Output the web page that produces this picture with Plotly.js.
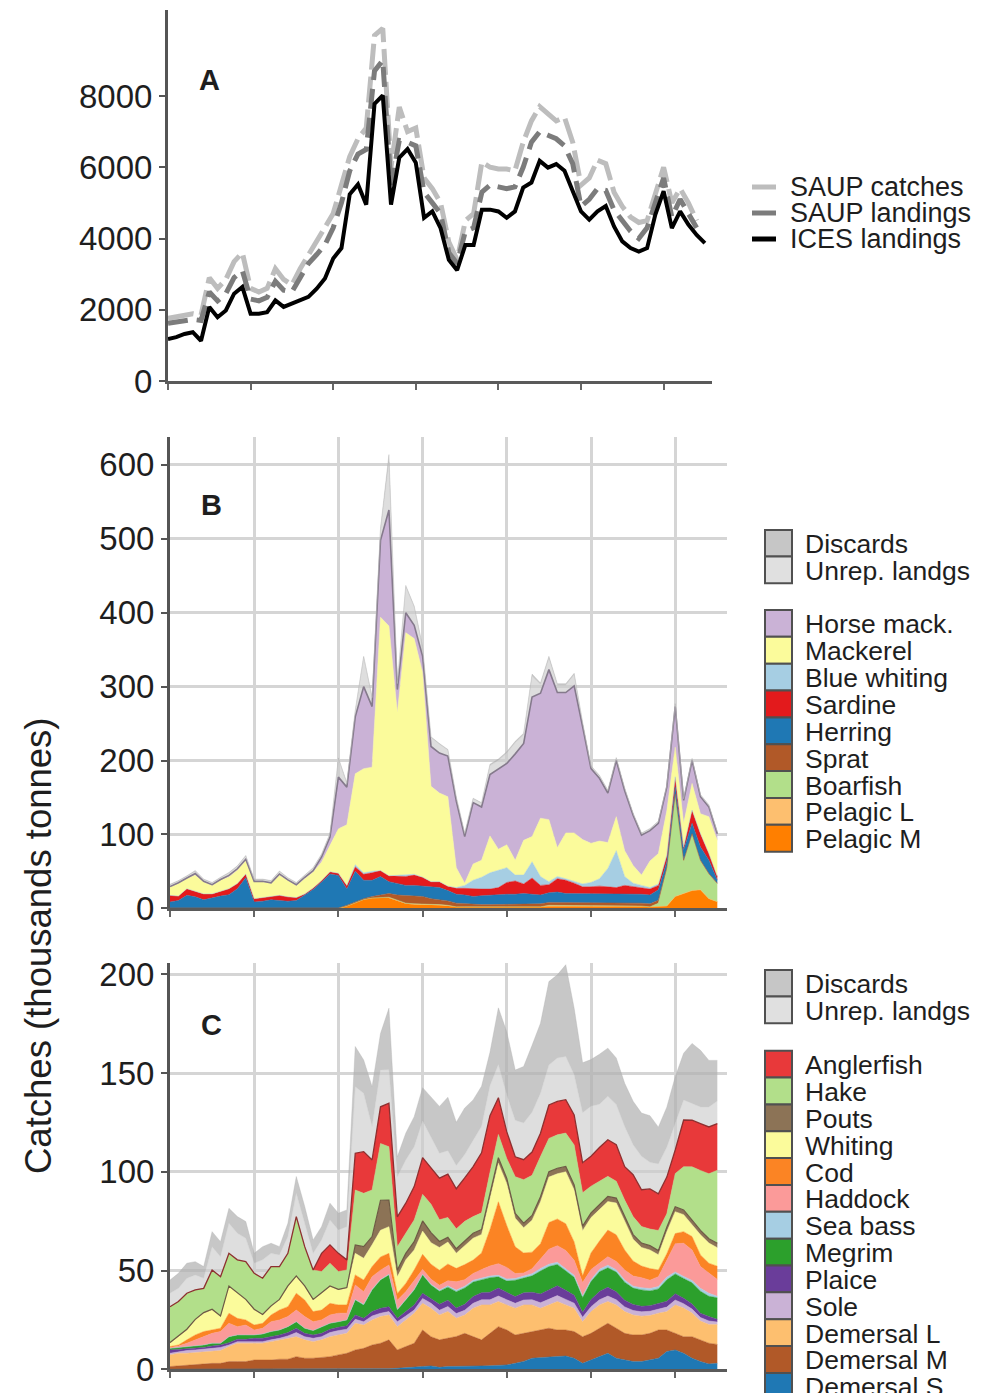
<!DOCTYPE html>
<html><head><meta charset="utf-8">
<script src="https://cdn.plot.ly/plotly-3.0.1.min.js"></script>
<style>html,body{margin:0;padding:0;background:#fff;}#chart{width:1005px;height:1393px;}</style>
</head><body><div id="chart"></div>
<script>
const years=[1950,1951,1952,1953,1954,1955,1956,1957,1958,1959,1960,1961,1962,1963,1964,1965,1966,1967,1968,1969,1970,1971,1972,1973,1974,1975,1976,1977,1978,1979,1980,1981,1982,1983,1984,1985,1986,1987,1988,1989,1990,1991,1992,1993,1994,1995,1996,1997,1998,1999,2000,2001,2002,2003,2004,2005,2006,2007,2008,2009,2010,2011,2012,2013,2014,2015];

// Panel A
const saupCatches=[1760,1800,1850,1890,1850,2900,2600,2850,3350,3600,2600,2500,2600,3150,2850,2700,3150,3540,3900,4290,4700,5500,6300,6800,7100,9700,9900,6000,7690,7000,7100,5700,5400,5000,3900,3400,4500,4700,6150,6000,5950,5950,5900,6700,7300,7700,7500,7300,7400,6700,5500,5700,6200,6100,5300,4900,4600,4450,4500,5300,6000,5000,5400,5000,4500,null];
const saupLandings=[1620,1650,1700,1730,1700,2500,2250,2450,2900,3100,2300,2250,2350,2800,2550,2500,2900,3300,3550,3820,4300,5000,5900,6370,6500,8700,9000,5500,6750,6700,6600,5300,5000,4700,3600,3300,4200,4300,5300,5500,5450,5400,5450,6000,6700,7000,6900,6800,6600,6100,4900,5100,5400,5350,4800,4500,4200,4000,4300,5000,5700,4600,5100,4700,4300,null];
const icesLandings=[1180,1230,1320,1370,1130,2080,1790,1980,2450,2640,1890,1890,1930,2260,2080,2170,2260,2360,2590,2880,3440,3730,5240,5520,4950,7780,8020,4950,6270,6510,6130,4580,4760,4290,3400,3110,3820,3820,4810,4810,4760,4580,4760,5430,5570,6180,5990,6090,5900,5330,4760,4530,4760,4910,4340,3920,3730,3630,3730,4670,5330,4290,4760,4390,4100,3870];

// Panel B (pelagic)
const bHorseMack=[1,1,1,2,1,1,1,2,2,2,1,1,1,2,1,1,2,2,7,11,70,51,77,111,82,104,157,31,27,18,22,54,54,55,90,63,83,72,83,108,110,144,131,189,169,203,210,190,199,153,101,85,67,76,81,68,54,41,41,32,55,31,31,23,13,9];
const bMackerel=[11,17,13.5,22.5,16,11.5,15.5,16,18,18,22.5,21,18,27,22,16.5,20.5,21.5,25,36,60,82,123,141,141,343,338,220,328,319,277,129,120,121,27,3,22,23,50,28,31,20,47,34,79,84,39,62,65,60,53,51,35,46,35,24,14,36,41,60,40,32,36,27,50,49];
const bBlueWhiting=[0,0,0,0,0,0,0,0,0,0,0,0,0,0,0,0,0,0,0,0,0,0,3,2,2,0,0,1,2,1,0,0,0,0,1,4,12,16,22,24,20,8,12,22,12,4,3,2,3,4,6,10,25,50,12,5,3,2,2,1,0,0,0,0,0,0];
const bSardine=[9,6,9,7,8,5,6,8,7,5,4.5,5,4,7,6,4,2,2,2,3,3,5,6,8,10,8,8,10,12,14,12,8,8,6,8,9,10,9,8,10,16,18,13,22,13,11,18,18,14,9,10,11,9,8,12,10,9,8,6,8,14,4,18,18,9,5];
const bHerring=[8,10,17,15,11,14,16,18,26,41,8,9,11,10,9,10,17,25,35,46,44,22,41,25,22,25,16,16,14,14,14,15,16,14,12,12,11,12,13,13,14,13,14,13,12,13,14,12,12,12,11,11,12,12,11,11,12,12,14,8,9,14,14,18,18,4];
const bSprat=[0.5,0.5,0.5,0.5,0.5,0.5,0.5,0.5,0.5,0.5,0.5,0.5,0.5,0.5,0.5,0.5,0.5,0.5,0.5,0.5,0.5,1,1,1,2,3,5,7,10,11,10,8,7,6,5,4,3,3,3,3,3,4,4,4,4,4,4,4,4,4,4,4,4,4,4,4,4,4,4,2,1,1,1,1,1,1];
const bBoarfish=[0,0,0,0,0,0,0,0,0,0,0,0,0,0,0,0,0,0,0,0,0,0,0,0,0,0,0,0,0,0,0,0,0,0,0,0,0,0,0,0,0,0,0,0,0,0,0,0,0,0,0,0,0,0,0,0,0,0,5,50,138,44,76,39,33,24];
const bPelagicL=[0,0,0,0,0,0,0,0,0,0,0,0,0,0,0,0,0,0,0,0,0,0,0,0,0,0,1,1,1,1,1,1,1,1,0,0,0,0,0,0,0,0,0,0,0,1,1,1,1,1,1,1,1,1,1,1,0,0,0,0,0,0,0,0,0,0];
const bPelagicM=[0,0,0,0,0,0,0,0,0,0,0,0,0,0,0,0,0,0,0,0,0,3,8,12,14,15,14,10,6,5,5,4,4,3,2,2,2,2,2,2,2,2,2,2,2,3,3,3,3,3,3,3,3,3,3,3,3,2,2,3,16,20,24,25,13,9];
const bUnrep=[2,2,2,3,2,2,2,3,3,4,2,2,2,3,2,2,2,3,3,4,25,5,8,40,12,15,65,8,35,25,12,12,12,8,5,4,5,5,12,12,14,15,12,28,12,15,10,10,15,5,3,3,3,3,3,2,2,2,2,2,3,2,2,2,2,2];
const bDiscards=[1,1,1,1,1,1,1,1,1,1,1,1,1,1,1,1,1,1,1,1,1,1,1,1,1,1,10,1,2,1,1,1,1,1,1,1,1,1,2,2,2,2,2,3,2,3,2,2,2,1,1,1,1,1,1,1,1,1,1,1,1,1,1,1,1,1];

// Panel C (demersal)
const cAnglerfish=[0,0,0,0,0,0,0,0,0,0,0,0,0,0,0,0,0,0,9.2,9.3,9.2,5.1,18.6,21.1,15.2,18.6,22.0,15.2,15.2,16.9,18.6,18.5,21.1,21.9,20.3,22.0,25.3,30.4,28.7,18.6,13.5,10.1,10.1,11.8,11.8,16.9,16.9,16.9,15.2,15.2,15.2,16.9,18.5,18.5,16.9,21.2,18.6,20.3,18.5,18.6,11.9,23.6,23.6,23.7,23.7,23.6];
const cHake=[18.2,17.4,18.2,14.9,12.3,19.9,19.9,16.5,16.6,19.1,18.2,18.3,19.9,16.6,16.5,30.0,19.9,14.9,10.7,11.5,9.0,8.9,27.8,27.0,23.6,28.7,27.0,11.8,10.2,11.0,13.5,14.4,11.0,10.1,10.1,10.1,8.4,8.5,11.2,11.8,10.1,18.6,22.0,20.3,20.3,16.8,16.9,16.9,20.2,16.9,13.5,11.8,10.2,8.5,8.4,9.1,8.4,8.4,10.2,6.8,16.8,21.9,27.0,30.4,32.9,37.0];
const cPouts=[0.3,0.4,0.4,0.3,0.3,0.4,0.3,0.3,0.3,0.3,0.4,0.3,0.4,0.3,0.3,0.4,0.3,0.3,0.3,0.3,0.3,0.4,4.3,5.9,4.2,15.2,13.5,3.4,3.3,4.2,5.1,5.1,3.0,2.4,2.2,2.4,2.5,2.4,2.6,2.8,2.6,2.4,2.3,2.4,2.6,2.8,2.8,2.7,2.6,2.3,2.4,2.5,2.6,2.5,2.4,2.3,2.2,2.2,2.1,2.3,2.5,2.4,2.3,2.2,2.2,2.2];
const cWhiting=[1.7,4.2,5.0,7.6,9.3,10.1,5.9,13.5,12.7,10.1,7.6,4.2,4.2,5.1,10.2,8.4,6.8,5.9,8.5,8.5,7.6,8.4,10.9,11.0,11.0,13.5,13.5,8.4,11.9,10.1,11.8,10.9,11.5,11.1,7.7,9.4,11.1,9.4,15.1,19.5,21.3,14.5,12.8,16.2,21.2,23.0,22.9,26.3,26.3,22.9,17.9,16.2,14.4,16.1,14.5,11.1,9.4,9.4,7.7,11.1,11.1,8.6,6.0,10.2,10.2,9.4];
const cCod=[0.4,0.5,1.7,2.5,2.6,1.7,1.7,5.1,4.2,2.6,2.5,2.5,3.4,5.0,5.0,8.5,8.4,5.1,5.0,5.9,4.2,4.2,5.1,5.9,5.1,6.7,5.9,3.4,4.2,5.1,7.6,7.6,7.6,8.5,6.8,7.6,6.8,8.4,18.5,31.3,21.1,13.5,10.1,8.4,7.6,13.5,13.5,13.5,9.3,3.4,8.4,11.0,13.5,13.5,10.1,7.6,5.9,5.9,3.4,3.3,5.1,5.9,6.8,5.9,5.1,6.7];
const cHaddock=[0.5,0.7,1.7,3.1,4.2,5.0,5.9,6.8,4.2,5.0,2.5,2.9,5.0,5.1,5.1,5.9,5.9,4.5,3.7,4.2,4.3,3.4,7.3,6.4,6.4,4.7,4.7,4.7,3.9,4.7,2.5,2.6,2.5,2.5,4.2,3.4,3.4,4.2,5.1,5.9,5.9,2.5,1.7,2.5,5.0,7.6,8.4,9.2,7.6,6.7,5.1,3.3,4.3,4.2,5.1,5.1,5.1,4.2,5.0,8.5,14.3,16.8,15.4,11.0,10.1,8.5];
const cSeaBass=[0,0,0,0,0,0,0,0,0,0,0,0,0,0,0,0,0,0,0,0,0,0,0.3,0.3,0.3,0.3,0.3,0.3,0.3,0.3,0.3,0.3,0.6,0.7,0.8,0.8,0.9,0.9,0.8,0.8,1.0,0.9,1.0,1.1,1.2,1.2,1.1,1.0,1.0,0.8,1.0,1.2,1.3,1.2,1.1,1.0,1.1,1.2,1.2,1.4,1.0,1.0,1.2,1.5,1.5,0.8];
const cMegrim=[0.8,1.0,0.9,0.8,1.2,1.4,0.9,3.0,2.2,2.2,1.7,2.2,2.6,2.5,3.0,3.3,2.6,2.2,3.1,3.0,2.8,3.0,7.6,6.8,11.0,14.3,16.1,4.2,5.9,7.6,9.3,6.8,6.6,6.6,8.3,8.3,7.4,6.6,7.4,5.7,5.7,8.3,7.4,8.3,11.7,11.6,10.8,10.0,9.1,7.5,9.1,10.0,9.9,10.0,9.1,8.3,8.3,7.5,7.5,10.8,10.0,10.0,10.8,11.1,10.3,10.9];
const cPlaice=[1.7,1.2,1.1,1.2,1.0,1.2,1.2,1.2,1.2,1.2,1.7,1.7,1.6,1.7,1.7,2.2,1.7,1.7,1.7,1.7,1.7,1.7,2.2,1.7,2.2,2.5,2.5,1.7,2.2,2.6,2.6,2.5,3.0,3.2,2.8,3.0,3.4,3.6,3.8,4.0,3.8,3.4,3.6,3.8,4.4,4.8,5.0,4.6,4.0,2.6,3.6,4.2,4.4,4.0,3.4,3.0,2.8,2.8,2.6,3.0,3.2,2.8,2.5,2.2,2.2,1.4];
const cSole=[0.8,0.8,1.4,1.4,1.2,1.7,1.6,0.8,0.8,0.8,0.8,0.8,0.9,0.8,1.2,2.1,1.6,1.7,1.6,2.1,2.2,2.1,2.0,1.7,2.0,1.7,1.7,2.5,2.0,1.6,2.5,2.5,2.4,2.5,2.3,2.4,2.5,2.6,2.6,2.8,2.6,2.5,2.5,2.6,2.8,3.0,3.0,2.8,2.6,2.2,2.5,2.6,2.8,2.6,2.4,2.3,2.2,2.2,2.2,2.3,2.5,2.2,2.0,1.8,1.8,1.2];
const cDemersalL=[5.9,6.4,5.9,5.9,6.2,5.9,6.5,7.6,9.3,9.3,8.5,8.5,9.3,9.8,10.6,10.1,9.3,8.4,8.8,10.1,10.1,10.1,13.5,11.8,12.7,13.5,12.6,11.8,13.5,15.2,13.5,14.4,12.6,13.5,9.3,9.3,14.4,17.7,14.4,12.7,12.7,13.5,14.4,13.5,11.0,11.8,14.4,12.7,11.8,7.6,11.0,11.8,11.0,11.8,11.0,10.1,9.5,9.0,8.5,9.3,14.4,14.5,12.0,9.5,9.5,10.1];
const cDemersalM=[1.4,1.7,2.2,2.5,2.7,3.0,3.0,3.9,3.9,3.9,4.7,4.7,4.7,5.1,5.1,6.4,5.6,5.6,6.1,6.4,7.3,8.1,9.8,10.6,12.3,13.2,14.6,9.3,10.8,12.2,18.5,14.8,13.9,14.4,15.2,16.8,15.0,13.2,16.4,19.6,17.7,14.4,14.2,13.5,13.9,14.4,13.4,13.2,13.5,13.5,13.5,14.8,15.2,15.2,13.5,13.5,13.5,13.5,14.3,10.9,8.4,8.4,10.9,11.0,10.5,9.6];
const cDemersalS=[0,0,0,0,0,0,0,0,0,0,0,0,0,0,0,0,0,0,0,0,0,0,0,0,0,0,0.3,0.5,0.7,1.0,1.4,1.7,1.0,1.4,1.4,1.4,1.5,1.7,1.8,2.0,2.2,3.0,4.0,5.6,6.0,6.4,6.5,6.7,5.6,3.0,4.7,6.0,8.1,5.6,4.7,3.9,3.9,4.7,5.6,9.0,9.8,8.1,5.6,3.9,2.7,3.0];
const cUnrep=[6.8,6.7,7.6,7.6,5.1,11.8,10.1,15.2,13.5,11.8,5.1,9.3,6.7,5.9,8.5,11.8,11.8,8.4,6.8,12.6,11.8,16.8,33.7,29.5,16.9,18.6,16.9,20.3,21.9,20.2,18.5,15.2,12.6,11.9,11.8,11.8,13.5,13.5,15.2,16.8,18.6,18.5,18.6,20.2,20.3,20.3,22.0,21.9,20.3,25.3,25.3,21.9,22.0,20.3,20.3,15.2,16.9,13.5,15.2,15.1,13.5,10.2,8.5,8.4,10.1,11.4];
const cDiscards=[6.7,7.6,7.6,6.7,5.9,7.6,7.6,7.6,8.4,8.5,5.0,6.7,5.1,4.2,6.7,8.5,8.5,6.8,6.7,8.5,8.5,8.5,20.3,16.9,20.2,18.5,31.2,10.1,13.5,15.2,16.9,20.3,23.7,27.0,21.9,23.6,20.3,20.2,16.9,28.7,32.0,25.4,28.6,33.8,35.4,42.2,42.1,46.4,33.7,25.3,23.6,25.3,24.4,23.6,21.9,22.0,21.9,23.6,18.6,20.3,23.6,23.6,30.4,28.7,23.6,20.6];

const yTicksA=[0,2000,4000,6000,8000];
const yTicksB=[0,100,200,300,400,500,600];
const yTicksC=[0,50,100,150,200];

// ---- styling / tables built from data ----
const W=1005,H=1393;
const px=x=>x/W, py=y=>1-y/H;
const FONT='Liberation Sans, Arial, Helvetica, sans-serif';
const TXT='#1e1e1e';

const linesA=[
  {name:'SAUP catches',y:saupCatches,color:'#bdbdbd',width:5,dash:'26px,7px'},
  {name:'SAUP landings',y:saupLandings,color:'#7c7c7c',width:5,dash:'20px,9px'},
  {name:'ICES landings',y:icesLandings,color:'#000000',width:4,dash:'solid'}
];
const grayB=[{name:'Discards',y:bDiscards,color:'rgba(175,175,175,0.7)',sw:'#c6c6c6'},{name:'Unrep. landgs',y:bUnrep,color:'rgba(205,205,205,0.65)',sw:'#e0e0e0'}];
const speciesB=[
  {name:'Horse mack.',y:bHorseMack,color:'#cab2d6',line:'#857a8c',lw:1.6},
  {name:'Mackerel',y:bMackerel,color:'#fbfb9b'},
  {name:'Blue whiting',y:bBlueWhiting,color:'#a6cee3'},
  {name:'Sardine',y:bSardine,color:'#e31a1c'},
  {name:'Herring',y:bHerring,color:'#1f78b4'},
  {name:'Sprat',y:bSprat,color:'#b15928'},
  {name:'Boarfish',y:bBoarfish,color:'#b2df8a'},
  {name:'Pelagic L',y:bPelagicL,color:'#fdbf6f'},
  {name:'Pelagic M',y:bPelagicM,color:'#ff7f00'}
];
const grayC=[{name:'Discards',y:cDiscards,color:'rgba(175,175,175,0.7)',sw:'#c6c6c6'},{name:'Unrep. landgs',y:cUnrep,color:'rgba(205,205,205,0.65)',sw:'#e0e0e0'}];
const speciesC=[
  {name:'Anglerfish',y:cAnglerfish,color:'#e8393a',line:'#8e2f2f',lw:1.3},
  {name:'Hake',y:cHake,color:'#b2df8a'},
  {name:'Pouts',y:cPouts,color:'#8c7356',line:'#6d5a44',lw:1.2},
  {name:'Whiting',y:cWhiting,color:'#fbfb9b'},
  {name:'Cod',y:cCod,color:'#fb8424'},
  {name:'Haddock',y:cHaddock,color:'#fb9a99'},
  {name:'Sea bass',y:cSeaBass,color:'#a6cee3'},
  {name:'Megrim',y:cMegrim,color:'#2ca02c'},
  {name:'Plaice',y:cPlaice,color:'#6a3d9a'},
  {name:'Sole',y:cSole,color:'#cab2d6'},
  {name:'Demersal L',y:cDemersalL,color:'#fdbf6f'},
  {name:'Demersal M',y:cDemersalM,color:'#b15928'},
  {name:'Demersal S',y:cDemersalS,color:'#1f78b4'}
];

const traces=[];
linesA.forEach(s=>traces.push({type:'scatter',mode:'lines',x:years,y:s.y,name:s.name,xaxis:'x',yaxis:'y',
  line:{color:s.color,width:s.width,dash:s.dash},connectgaps:false,showlegend:false,hoverinfo:'skip'}));
function addStack(list,grays,xa,ya,grp){
  const order=list.slice().reverse().concat(grays.slice().reverse());
  order.forEach(s=>traces.push({type:'scatter',mode:'lines',x:years,y:s.y,name:s.name,xaxis:xa,yaxis:ya,stackgroup:grp,
    fillcolor:s.color,line:{color:s.line||s.color,width:s.lw||0.5},showlegend:false,hoverinfo:'skip'}));
}
addStack(speciesB,grayB,'x2','y2','b');
addStack(speciesC,grayC,'x3','y3','c');

const shapes=[],annotations=[];
function label(x,y,text,size,anchor){annotations.push({xref:'paper',yref:'paper',x:px(x),y:py(y),text:text,showarrow:false,
  xanchor:anchor||'left',yanchor:'middle',borderpad:0,font:{family:FONT,size:size,color:TXT}});}
// Legend A
const legA_y=[187,213,239];
linesA.forEach((s,i)=>{shapes.push({type:'line',xref:'paper',yref:'paper',x0:px(752),x1:px(776),y0:py(legA_y[i]),y1:py(legA_y[i]),line:{color:s.color,width:5}});
  label(789,legA_y[i],s.name,27);});
// swatch legends
function swatchLegend(items,top,rowH,useSw){
  items.forEach((s,i)=>{const t=top+i*rowH;
    shapes.push({type:'rect',xref:'paper',yref:'paper',x0:px(765),x1:px(792),y0:py(t+rowH),y1:py(t),fillcolor:useSw?s.sw:s.color,line:{color:'#505050',width:2}});
    label(804,t+rowH/2+1,s.name,26.5);});
}
swatchLegend(grayB,530,26.6,true);
swatchLegend(speciesB,610,26.85,false);
swatchLegend(grayC,970,26.6,true);
swatchLegend(speciesC,1050.7,26.85,false);
// panel letters
label(209,80,'<b>A</b>',29,'center');
label(211,505,'<b>B</b>',29,'center');
label(211,1025,'<b>C</b>',29,'center');
annotations.push({xref:'paper',yref:'paper',x:px(38),y:py(946),text:'Catches (thousands tonnes)',textangle:-90,showarrow:false,
  xanchor:'center',yanchor:'middle',font:{family:FONT,size:36.5,color:TXT}});

const tickFont={family:FONT,size:33,color:TXT};
function xax(d0,d1,r1,grid,anchor){return {domain:[px(d0),px(d1)],range:[1950,r1],anchor:anchor,tick0:1950,dtick:10,showticklabels:false,
  ticks:'outside',ticklen:6,tickwidth:2,tickcolor:'#666',showline:true,linecolor:'#5a5a5a',linewidth:3,zeroline:false,
  showgrid:grid,gridcolor:'#d5d5d5',gridwidth:3,fixedrange:true};}
function yax(top,bot,r1,vals,grid,anchor){return {domain:[py(bot),py(top)],range:[0,r1],anchor:anchor,tickmode:'array',tickvals:vals,ticktext:vals.map(String),
  ticks:'outside',ticklen:6,tickwidth:2,tickcolor:'#555',showline:true,linecolor:'#555',linewidth:3,zeroline:false,
  showgrid:grid,gridcolor:'#d5d5d5',gridwidth:3,tickfont:tickFont,fixedrange:true};}

const layout={width:W,height:H,margin:{l:0,r:0,t:0,b:0},paper_bgcolor:'#fff',plot_bgcolor:'rgba(0,0,0,0)',showlegend:false,
  font:{family:FONT,color:TXT},
  xaxis:xax(168,712,2015.86,false,'y'),
  yaxis:yax(10,381,10414,yTicksA,false,'x'),
  xaxis2:xax(170,727,2016.15,true,'y2'),
  yaxis2:yax(437,908.3,637.8,yTicksB,true,'x2'),
  xaxis3:xax(170,727,2016.15,true,'y3'),
  yaxis3:yax(963,1369.3,205.7,yTicksC,true,'x3'),
  shapes:shapes,annotations:annotations};
Plotly.newPlot('chart',traces,layout,{staticPlot:true,displayModeBar:false});
</script></body></html>
